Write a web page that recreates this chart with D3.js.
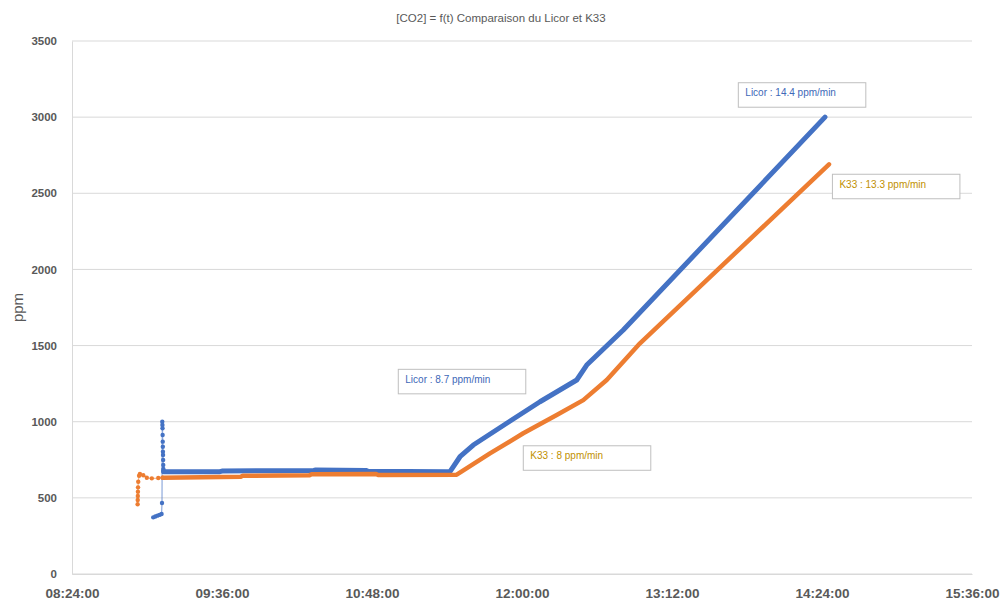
<!DOCTYPE html>
<html>
<head>
<meta charset="utf-8">
<script src="https://cdn.jsdelivr.net/npm/d3@7"></script>
<style>
  html, body { margin: 0; padding: 0; background: #fff; }
  svg { display: block; font-family: "Liberation Sans", Arial, sans-serif; }
</style>
</head>
<body>
<svg id="chart" width="1002" height="604"></svg>
<script>
// ---------- DATA ----------
const chartTitle = "[CO2] = f(t) Comparaison du Licor et K33";
const yTickValues = [0, 500, 1000, 1500, 2000, 2500, 3000, 3500];
const xTickLabels = ["08:24:00", "09:36:00", "10:48:00", "12:00:00", "13:12:00", "14:24:00", "15:36:00"];

// Licor – sparse start-up readings (individual markers)
const licorStartTimes = ["09:03:00","09:04:00","09:05:00","09:06:00","09:07:00","09:07:12","09:07:20",
  "09:07:24","09:07:27","09:07:30","09:07:33","09:07:36","09:07:39","09:07:42","09:07:45","09:07:48","09:07:51","09:07:54","09:08:00"];
const licorStartValues = [372, 378, 383, 388, 394, 466, 1000,
  978, 957, 913, 869, 836, 803, 781, 749, 716, 690, 680, 672];

// Licor – continuous recording
const licorTimes = ["09:08:00","09:35:00","09:36:00","10:00:00","10:20:00","10:21:00","10:45:00","10:46:00","11:24:00",
  "11:25:26","11:30:14","11:36:37","11:52:40","12:08:38","12:26:16","12:31:04","12:48:37","14:25:26"];
const licorValues = [672, 672, 676, 678, 680, 683, 680, 675, 672,
  672, 770, 847, 990, 1131, 1274, 1372, 1602, 3000];

// K33 – sparse start-up readings (individual markers)
const k33StartTimes = ["08:55:30","08:55:33","08:55:36","08:55:39","08:55:42","08:55:48","08:56:12","08:56:36",
  "08:58:12","08:59:54","09:02:18","09:05:24","09:07:30"];
const k33StartValues = [458, 486, 512, 540, 569, 606, 645, 657, 648, 632, 628, 630, 632];

// K33 – continuous recording
const k33Times = ["09:07:30","09:45:00","09:46:00","10:18:00","10:19:00","10:50:00","10:51:00","11:28:40",
  "11:44:38","12:00:37","12:16:40","12:29:25","12:40:40","12:56:38","14:27:22"];
const k33Values = [632, 638, 645, 648, 655, 656, 650, 652,
  792, 924, 1044, 1142, 1274, 1515, 2690];

// Text boxes (anchored at their top-left corner, in data coordinates)
const annotations = [
  { text: "Licor : 14.4 ppm/min", series: "licor", t: "13:43:50", v: 3226 },
  { text: "K33 : 13.3 ppm/min", series: "k33",   t: "14:29:00", v: 2625 },
  { text: "Licor : 8.7 ppm/min", series: "licor", t: "11:00:37", v: 1344 },
  { text: "K33 : 8 ppm/min",     series: "k33",   t: "12:00:37", v: 842 }
];

// ---------- LAYOUT ----------
const W = 1002, H = 604;
const margin = { left: 72, right: 30, top: 41, bottom: 30 };
const colors = { licor: "#4472C4", k33: "#ED7D31" };
const textColors = { licor: "#4068B8", k33: "#BF9000" };

const parse = d3.timeParse("%H:%M:%S");
const svg = d3.select("#chart");

const x = d3.scaleTime()
  .domain([parse("08:24:00"), parse("15:36:00")])
  .range([margin.left, W - margin.right]);
const y = d3.scaleLinear()
  .domain([0, 3500])
  .range([H - margin.bottom, margin.top]);

const zip = (ts, vs) => ts.map((t, i) => ({ t: parse(t), v: vs[i] }));
const licorStart = zip(licorStartTimes, licorStartValues);
const licor = zip(licorTimes, licorValues);
const k33Start = zip(k33StartTimes, k33StartValues);
const k33 = zip(k33Times, k33Values);

// Title
svg.append("text")
  .attr("x", W / 2).attr("y", 22)
  .attr("text-anchor", "middle")
  .attr("font-size", 11.5)
  .attr("fill", "#595959")
  .text(chartTitle);

// Gridlines
svg.append("g")
  .selectAll("line")
  .data(yTickValues)
  .join("line")
  .attr("x1", margin.left).attr("x2", W - margin.right)
  .attr("y1", d => y(d)).attr("y2", d => y(d))
  .attr("stroke", "#d9d9d9").attr("stroke-width", 1);

// Y axis
const yAxis = svg.append("g")
  .attr("transform", `translate(${margin.left},0)`)
  .call(d3.axisLeft(y).tickValues(yTickValues).tickSize(0).tickPadding(15).tickFormat(d3.format("d")));
yAxis.select(".domain").attr("stroke", "#d9d9d9");
yAxis.selectAll("text")
  .attr("font-size", 11.5).attr("font-weight", "bold").attr("fill", "#595959")
  .attr("font-family", "'Liberation Sans', Arial, sans-serif");

// X axis
const xTicks = xTickLabels.map(parse);
const xAxis = svg.append("g")
  .attr("transform", `translate(0,${H - margin.bottom})`)
  .call(d3.axisBottom(x).tickValues(xTicks).tickSize(0).tickPadding(14).tickFormat(d3.timeFormat("%H:%M:%S")));
xAxis.select(".domain").attr("stroke", "#d9d9d9");
xAxis.selectAll("text")
  .attr("font-size", 13.5).attr("font-weight", "bold").attr("fill", "#595959")
  .attr("font-family", "'Liberation Sans', Arial, sans-serif");

// Y label
svg.append("text")
  .attr("transform", `translate(23,${(margin.top + H - margin.bottom) / 2}) rotate(-90)`)
  .attr("text-anchor", "middle")
  .attr("font-size", 15)
  .attr("fill", "#595959")
  .text("ppm");

const line = d3.line().x(d => x(d.t)).y(d => y(d.v));

function drawSeries(start, main, key, width) {
  const g = svg.append("g");
  g.append("path").datum(start.concat(main.slice(0,1)))
    .attr("d", line).attr("fill", "none")
    .attr("stroke", colors[key]).attr("stroke-opacity", 0.6).attr("stroke-width", 1.2);
  g.selectAll("circle").data(start).join("circle")
    .attr("cx", d => x(d.t)).attr("cy", d => y(d.v)).attr("r", 2.2)
    .attr("fill", colors[key]);
  g.append("path").datum(main)
    .attr("d", line).attr("fill", "none")
    .attr("stroke", colors[key]).attr("stroke-width", width)
    .attr("stroke-linejoin", "round").attr("stroke-linecap", "round");
}
drawSeries(licorStart, licor, "licor", 5);
drawSeries(k33Start, k33, "k33", 4.5);

// Annotations
annotations.forEach(a => {
  const g = svg.append("g").attr("transform", `translate(${x(parse(a.t))},${y(a.v)})`);
  g.append("rect").attr("x", 0).attr("y", 0).attr("width", 127.5).attr("height", 24.5)
    .attr("fill", "#fff").attr("stroke", "#bfbfbf").attr("stroke-width", 1);
  g.append("text").attr("x", 7).attr("y", 13.5)
    .attr("font-size", 10).attr("fill", textColors[a.series])
    .text(a.text);
});
</script>
</body>
</html>
